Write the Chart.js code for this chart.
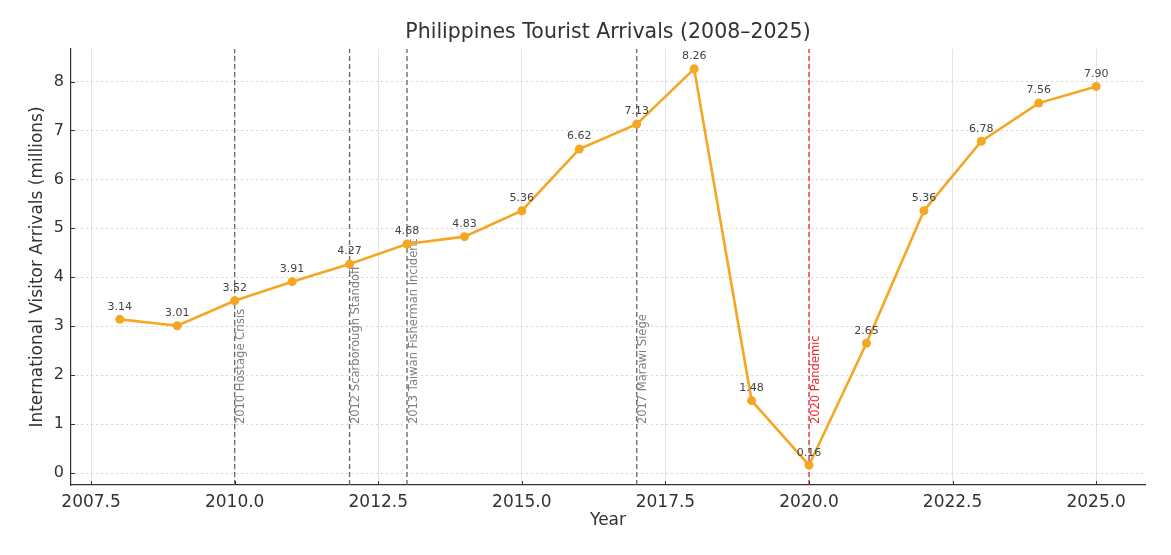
<!DOCTYPE html>
<html>
<head>
<meta charset="utf-8">
<title>Philippines Tourist Arrivals</title>
<script src="https://cdn.jsdelivr.net/npm/chart.js@4.4.1/dist/chart.umd.min.js"></script>
<style>
  html, body { margin: 0; padding: 0; background: #fff; }
  canvas { display: block; }
</style>
</head>
<body>
<canvas id="arrivals-chart" width="1171" height="555"></canvas>
<script>
// Data
const years = [2008, 2009, 2010, 2011, 2012, 2013, 2014, 2015, 2016, 2017, 2018, 2019, 2020, 2021, 2022, 2023, 2024, 2025];
const arrivals = [3.14, 3.01, 3.52, 3.91, 4.27, 4.68, 4.83, 5.36, 6.62, 7.13, 8.26, 1.48, 0.16, 2.65, 5.36, 6.78, 7.56, 7.90];

// Events marked with vertical dashed lines
const eventYears = [2010, 2012, 2013, 2017, 2020];
const eventLabels = ['2010 Hostage Crisis', '2012 Scarborough Standoff', '2013 Taiwan Fisherman Incident', '2017 Marawi Siege', '2020 Pandemic'];
const eventColors = ['#666666', '#666666', '#666666', '#666666', '#e8262e'];
const eventTextColors = ['#808080', '#808080', '#808080', '#808080', '#e8262e'];
const eventLabelAt = 1; // labels start at y = 1 million

// Axis ticks and limits
const xTicks = [2007.5, 2010, 2012.5, 2015, 2017.5, 2020, 2022.5, 2025];
const yTicks = [0, 1, 2, 3, 4, 5, 6, 7, 8];
const xMin = 2007.15, xMax = 2025.85;
const yMin = -0.245, yMax = 8.665;

const lineColor = '#f5a623';
const fontFamily = "'DejaVu Sans', 'Liberation Sans', sans-serif";

Chart.defaults.font.family = fontFamily;
Chart.defaults.color = '#333';

// the main series
const seriesData = years.map((y, i) => ({ x: y, y: arrivals[i] }));

// one two-point dataset per event line
const eventDatasets = eventYears.map((yr, i) => ({
    label: eventLabels[i],
    data: [{ x: yr, y: yMin }, { x: yr, y: yMax }],
    borderColor: eventColors[i],
    borderWidth: 1.3,
    borderDash: [5, 3],
    pointRadius: 0,
    fill: false,
    order: 2
}));

// rotated event captions, drawn under the lines
const eventTextPlugin = {
    id: 'eventText',
    beforeDatasetsDraw(chart) {
        const { ctx, scales: { x, y } } = chart;
        ctx.save();
        ctx.font = "11.5px " + fontFamily;
        ctx.textAlign = 'left';
        ctx.textBaseline = 'top';
        eventYears.forEach((yr, i) => {
            ctx.save();
            ctx.translate(x.getPixelForValue(yr) + 1, y.getPixelForValue(eventLabelAt));
            ctx.rotate(-Math.PI / 2);
            ctx.fillStyle = eventTextColors[i];
            ctx.fillText(eventLabels[i], 0, 0);
            ctx.restore();
        });
        ctx.restore();
    }
};

// value labels above each point + inward tick marks
const valueLabelPlugin = {
    id: 'valueLabels',
    afterDatasetsDraw(chart) {
        const { ctx, chartArea, scales: { x, y } } = chart;
        ctx.save();
        // tick marks pointing inwards, like the original
        ctx.strokeStyle = '#333';
        ctx.lineWidth = 1;
        xTicks.forEach(v => {
            const px = Math.round(x.getPixelForValue(v)) + 0.5;
            ctx.beginPath();
            ctx.moveTo(px, chartArea.bottom);
            ctx.lineTo(px, chartArea.bottom - 4);
            ctx.stroke();
        });
        yTicks.forEach(v => {
            const py = Math.round(y.getPixelForValue(v)) + 0.5;
            ctx.beginPath();
            ctx.moveTo(chartArea.left, py);
            ctx.lineTo(chartArea.left + 4, py);
            ctx.stroke();
        });

        const meta = chart.getDatasetMeta(0);
        ctx.font = "11px " + fontFamily;
        ctx.fillStyle = '#444';
        ctx.textAlign = 'center';
        ctx.textBaseline = 'bottom';
        meta.data.forEach((pt, i) => {
            ctx.fillText(arrivals[i].toFixed(2), pt.x, pt.y - 7);
        });
        ctx.restore();
    }
};

const ctx = document.getElementById('arrivals-chart').getContext('2d');

const arrivalsChart = new Chart(ctx, {
    type: 'line',
    data: {
        datasets: [{
            label: 'Arrivals',
            data: seriesData,
            borderColor: lineColor,
            backgroundColor: lineColor,
            borderWidth: 2.6,
            pointRadius: 4.5,
            pointBorderWidth: 0,
            pointBackgroundColor: lineColor,
            tension: 0,
            fill: false,
            order: 0
        }, ...eventDatasets]
    },
    options: {
        responsive: false,
        animation: false,
        devicePixelRatio: 1,
        layout: { padding: { left: 0, right: 26, top: 0, bottom: 0 } },
        plugins: {
            legend: { display: false },
            tooltip: { enabled: false },
            title: {
                display: true,
                fullSize: false,   // centre over the plot area, not the canvas
                text: 'Philippines Tourist Arrivals (2008–2025)',
                font: { size: 20.5, weight: 'normal' },
                color: '#333',
                padding: { top: 20.7, bottom: 3.7 }
            }
        },
        scales: {
            x: {
                type: 'linear',
                min: xMin,
                max: xMax,
                afterBuildTicks: (scale) => { scale.ticks = xTicks.map(v => ({ value: v })); },
                afterFit: (scale) => { scale.height = 70; },
                ticks: {
                    font: { size: 17 },
                    color: '#333',
                    padding: 7,
                    maxRotation: 0,
                    autoSkip: false,
                    callback: (v) => Number(v).toFixed(1)
                },
                grid: { color: '#e4e4e4', lineWidth: 1, drawTicks: false },
                border: { color: '#333', width: 1.2 },
                title: {
                    display: true,
                    text: 'Year',
                    font: { size: 17 },
                    color: '#333',
                    padding: { top: 0, bottom: 24 }
                }
            },
            y: {
                type: 'linear',
                min: yMin,
                max: yMax,
                afterBuildTicks: (scale) => { scale.ticks = yTicks.map(v => ({ value: v })); },
                afterFit: (scale) => { scale.width = 71; },
                ticks: {
                    font: { size: 16 },
                    color: '#333',
                    padding: 7,
                    callback: (v) => String(v)
                },
                grid: { color: '#d2d2d2', lineWidth: 1, drawTicks: false },
                border: { color: '#333', width: 1.2, dash: [2, 3] },
                title: {
                    display: true,
                    text: 'International Visitor Arrivals (millions)',
                    font: { size: 17 },
                    color: '#333',
                    padding: { top: 27, bottom: 0 }
                }
            }
        }
    },
    plugins: [eventTextPlugin, valueLabelPlugin]
});
</script>
</body>
</html>
